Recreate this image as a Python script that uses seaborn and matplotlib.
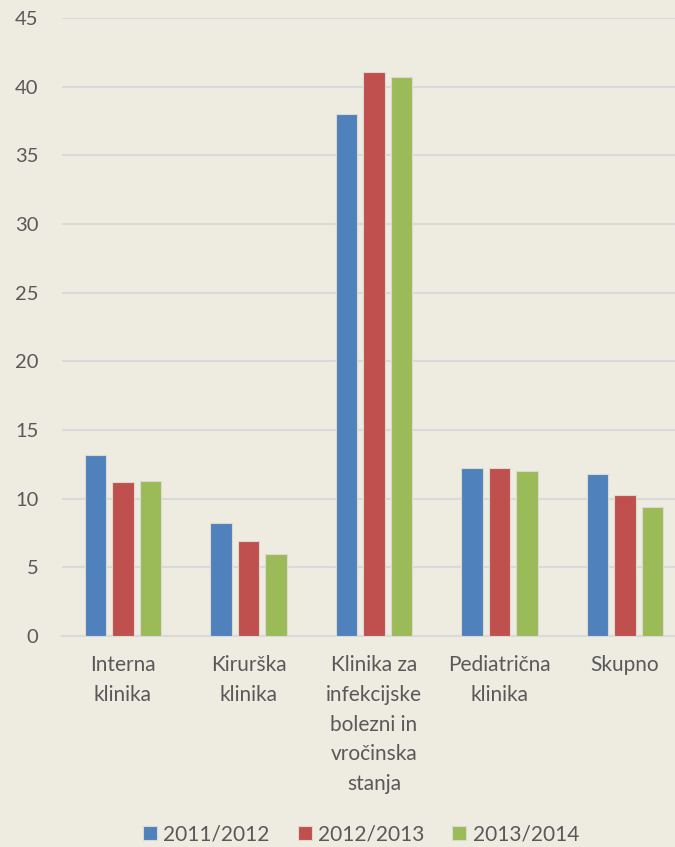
import numpy as np
import pandas as pd
from matplotlib import pyplot as plt
import seaborn as sns

# Podatki
kategorije = ["Interna\nklinika", "Kirurška\nklinika",
              "Klinika za\ninfekcijske\nbolezni in\nvročinska\nstanja",
              "Pediatrična\nklinika", "Skupno"]
leta = ["2011/2012", "2012/2013", "2013/2014"]
v_2011 = [13.2, 8.2, 38.0, 12.2, 11.8]
v_2012 = [11.2, 6.9, 41.1, 12.2, 10.3]
v_2013 = [11.3, 6.0, 40.7, 12.0, 9.4]
barve = ["#4F81BD", "#C0504D", "#9BBB59"]

df = pd.DataFrame({
    "kategorija": kategorije * 3,
    "leto": np.repeat(leta, len(kategorije)),
    "vrednost": v_2011 + v_2012 + v_2013,
})

ozadje = "#EEEBE0"
tekst = "#595959"

sns.set_style("white")
plt.rcParams['font.family'] = ['Lato', 'DejaVu Sans']

fig = plt.figure(figsize=(6.75, 8.47), dpi=100, facecolor=ozadje)
ax = fig.add_axes([62 / 675, 211 / 847, 613 / 675, 618 / 847])
ax.set_facecolor(ozadje)

sns.barplot(data=df, x="kategorija", y="vrednost", hue="leto",
            palette=barve, saturation=1, width=0.66, gap=0.22, ax=ax,
            edgecolor="#dcd9d0", linewidth=0.8, zorder=3)

ax.set_ylim(0, 45)
ax.set_yticks(np.arange(0, 46, 5))
ax.set_xlim(-0.486, 4.398)
ax.grid(axis="y", color="#D9D9D9", linewidth=1.5, zorder=0)
ax.set_axisbelow(True)
for s in ["top", "right", "left"]:
    ax.spines[s].set_visible(False)
ax.spines["bottom"].set_color("#D9D9D9")
ax.spines["bottom"].set_linewidth(1.5)
ax.tick_params(axis="both", length=0, colors=tekst)
ax.tick_params(axis="y", pad=17, labelsize=14.5)
ax.tick_params(axis="x", pad=14, labelsize=15)
for lbl in ax.get_xticklabels():
    lbl.set_linespacing(1.6)
ax.set_xlabel("")
ax.set_ylabel("")

h, l = ax.get_legend_handles_labels()
ax.get_legend().remove()
leg = fig.legend(h, l, loc="center", bbox_to_anchor=(361 / 675, 1 - 834 / 847),
                 ncol=3, frameon=False, fontsize=15, labelcolor=tekst,
                 handlelength=0.67, handleheight=0.67, handletextpad=0.3,
                 columnspacing=1.35)

fig.savefig("out.png", dpi=100, facecolor=ozadje)
